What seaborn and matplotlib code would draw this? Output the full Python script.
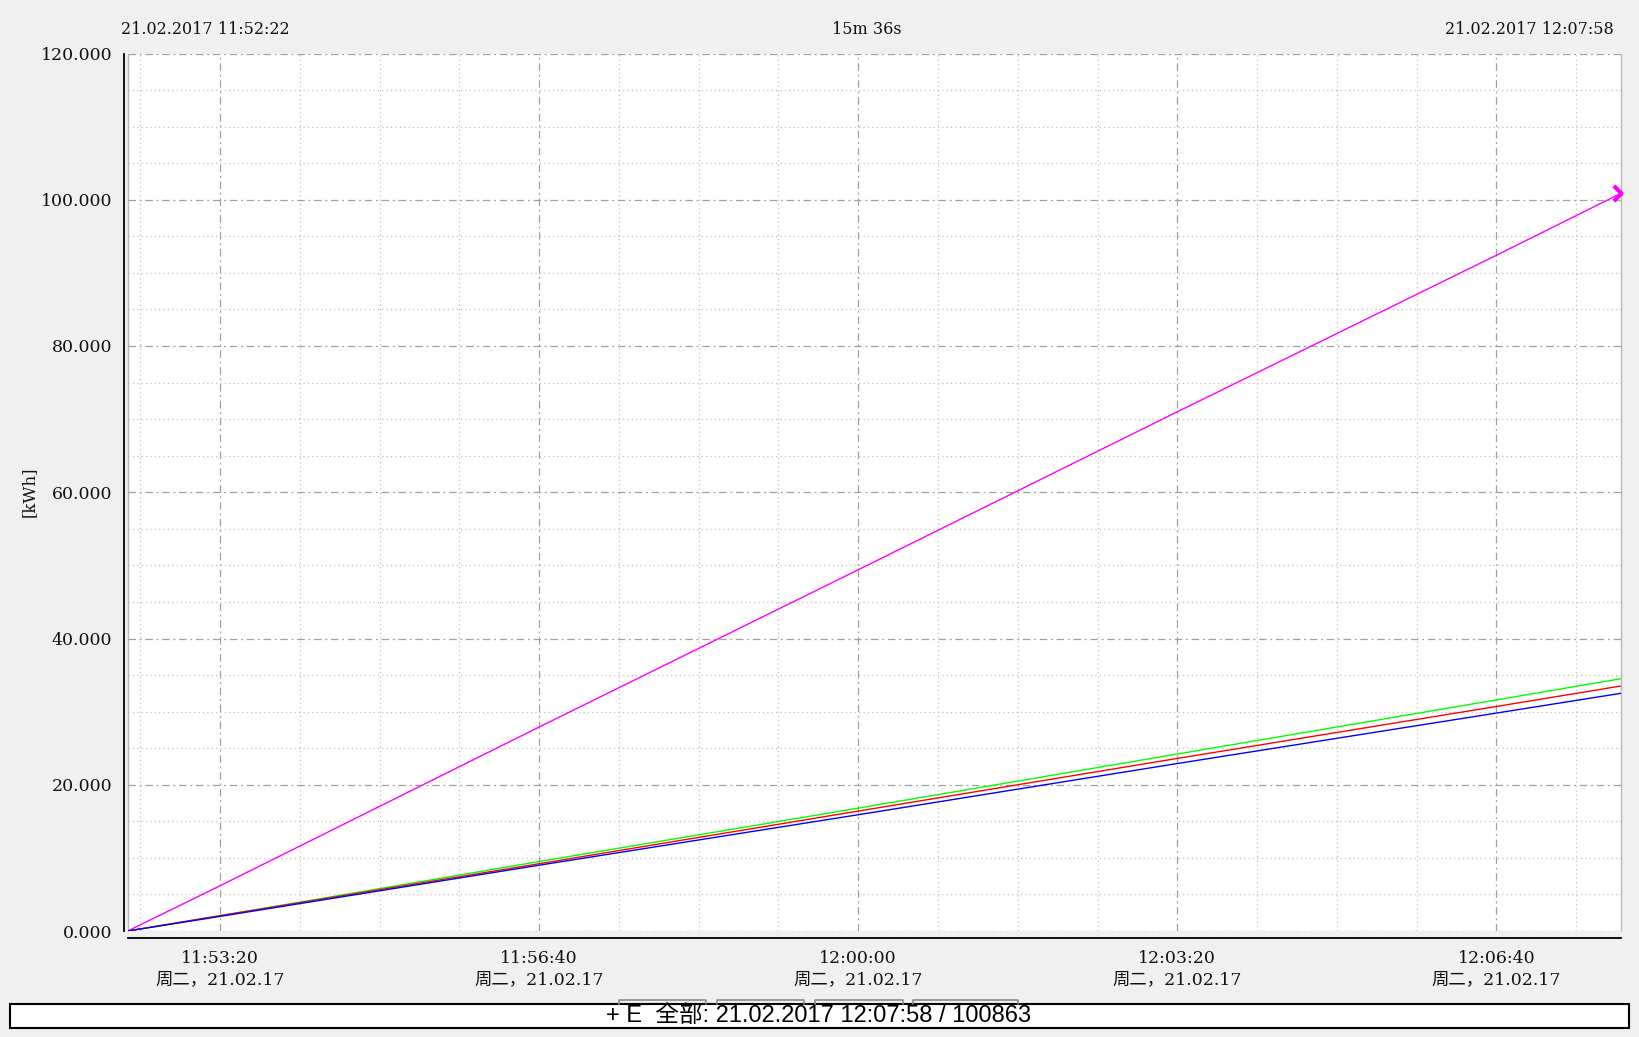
import numpy as np
import pandas as pd
import seaborn as sns
import matplotlib
matplotlib.use("Agg")
import matplotlib.pyplot as plt
from matplotlib.ticker import MultipleLocator, FuncFormatter, FixedLocator
from matplotlib.patches import Rectangle
from matplotlib.lines import Line2D

# ---------------- data ----------------
times = ["11:52:22", "11:53:20", "11:56:40", "12:00:00", "12:03:20", "12:06:40", "12:07:58"]
magenta_vals = [0.0, 6.2, 27.9, 49.4, 71.0, 92.4, 100.86]
green_vals = [0.0, 2.1, 9.5, 16.8, 24.2, 31.6, 34.5]
red_vals = [0.0, 2.1, 9.2, 16.4, 23.6, 30.7, 33.5]
blue_vals = [0.0, 2.0, 9.0, 15.9, 22.9, 29.8, 32.5]
series_names = ["magenta", "green", "red", "blue"]
series_colors = ["#ff00ff", "#00ff00", "#ff0000", "#0000ff"]

y_ticks = [0, 20, 40, 60, 80, 100, 120]
start_label = "21.02.2017 11:52:22"
span_label = "15m 36s"
end_label = "21.02.2017 12:07:58"
date_label = "周二，21.02.17"
y_label = "[kWh]"
status_text = "+ E  全部: 21.02.2017 12:07:58 / 100863"


def to_sec(t):
    h, m, s = map(int, t.split(":"))
    return h * 3600 + m * 60 + s


secs = [to_sec(t) for t in times]
df = pd.concat([
    pd.DataFrame({"t": secs, "v": vals, "s": name})
    for name, vals in zip(series_names,
                          [magenta_vals, green_vals, red_vals, blue_vals])
])

# ---------------- style ----------------
sns.set_theme(style="white")
SERIF = ["DejaVu Serif", "Noto Sans CJK SC", "DejaVu Sans"]
plt.rcParams["font.family"] = SERIF
BG = "#f0f0f0"

fig = plt.figure(figsize=(16.4, 10.37), dpi=100, facecolor=BG)
W, H = 1640, 1037
left, right, top, bottom = 127.7, 1620.7, 53.5, 931.0
ax = fig.add_axes([left / W, 1 - bottom / H, (right - left) / W, (bottom - top) / H])
ax.set_facecolor("white")

sns.lineplot(data=df, x="t", y="v", hue="s", palette=dict(zip(series_names, series_colors)),
             hue_order=series_names, legend=False, linewidth=1.0, ax=ax, sort=True)

# end marker (chevron) on the magenta line
chev = np.array([[-1.0, 1.0], [0.0, 0.0], [-1.0, -1.0]])
ax.plot([secs[-1]], [magenta_vals[-1]], linestyle="none", marker=chev, markersize=11,
        markerfacecolor="none", markeredgecolor="#ff00ff", markeredgewidth=3, clip_on=False,
        zorder=5)

x0, x1 = secs[0], secs[-1]
ax.set_xlim(x0, x1)
ax.set_ylim(0, 120)
ax.set_xlabel("")
ax.set_ylabel("")

# ticks
ax.yaxis.set_major_locator(FixedLocator(y_ticks))
ax.yaxis.set_minor_locator(MultipleLocator(5))
ax.yaxis.set_major_formatter(FuncFormatter(lambda v, p: f"{v:.3f}"))
ax.xaxis.set_major_locator(MultipleLocator(200))
ax.xaxis.set_minor_locator(MultipleLocator(50))


def fmt_x(v, p):
    v = int(round(v))
    return f"{v // 3600:02d}:{(v % 3600) // 60:02d}:{v % 60:02d}\n{date_label}"


ax.xaxis.set_major_formatter(FuncFormatter(fmt_x))

ax.tick_params(axis="both", which="major", direction="out", length=7, width=1.3,
               color="black", labelsize=12.5, labelcolor="#111111")
ax.tick_params(axis="both", which="minor", direction="out", length=4.5, width=1.0,
               color="black")
ax.tick_params(axis="y", which="major", pad=1)
ax.tick_params(axis="x", which="major", pad=2)

# grid
ax.grid(which="major", color="#a0a0a0", linestyle=(0, (6, 3, 1.5, 3)), linewidth=0.9)
ax.grid(which="minor", color="#c0c0c0", linestyle=(0, (1, 2.5)), linewidth=0.9)
ax.set_axisbelow(True)

# spines
for s in ["top", "right"]:
    ax.spines[s].set_visible(False)
ax.spines["left"].set_position(("outward", 3))
ax.spines["bottom"].set_position(("outward", 5))
for s in ["left", "bottom"]:
    ax.spines[s].set_color("black")
    ax.spines[s].set_linewidth(1.3)

# light-gray plot frame on left and right edges
for xx in (0, 1):
    ax.add_line(Line2D([xx, xx], [0, 1], transform=ax.transAxes, color="#b8b8b8",
                       linewidth=1.0, clip_on=False, zorder=0.5))

# top labels
fig.text(121 / W, 1 - 29 / H, start_label, ha="left", va="center", fontsize=11.5, color="#111111")
fig.text(867 / W, 1 - 29 / H, span_label, ha="center", va="center", fontsize=11.5, color="#111111")
fig.text(1614 / W, 1 - 29 / H, end_label, ha="right", va="center", fontsize=11.5, color="#111111")

# y label
fig.text(29 / W, 1 - 492 / H, y_label, rotation=90, ha="center", va="center", fontsize=12,
         color="#111111")

# bottom status bar
fig.add_artist(Rectangle((10.5 / W, 1 - 1028 / H), 1619 / W, 24 / H, transform=fig.transFigure,
                         facecolor="white", edgecolor="black", linewidth=1.5))
fig.text(819 / W, 1 - 1016 / H, status_text, ha="center", va="center", fontsize=17,
         color="black", family=["Liberation Sans", "Noto Sans CJK SC", "DejaVu Sans"])

# small gray tabs above status bar
for a, b in [(619, 706), (717, 804), (815, 903), (913, 1018)]:
    xs = [a / W, a / W, b / W, b / W]
    ys = [1 - 1004 / H, 1 - 1000 / H, 1 - 1000 / H, 1 - 1004 / H]
    fig.add_artist(Line2D(xs, ys, transform=fig.transFigure, color="#8c8c8c", linewidth=1.2))

fig.canvas.draw()
for lbl in ax.get_xticklabels():
    lbl.set_linespacing(1.32)

fig.savefig("out.png", dpi=100, facecolor=BG)
